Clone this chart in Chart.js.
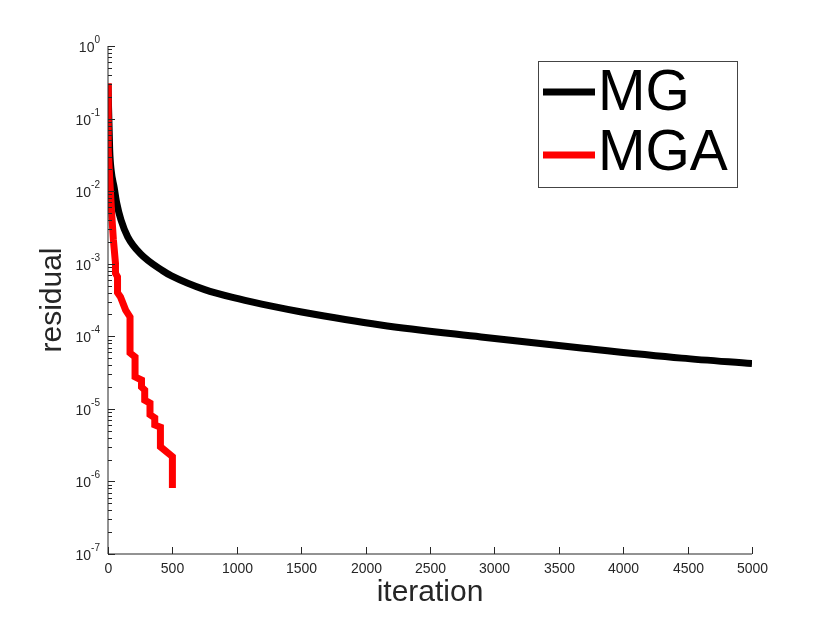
<!DOCTYPE html>
<html>
<head>
<meta charset="utf-8">
<script src="https://cdn.jsdelivr.net/npm/chart.js@4.4.1/dist/chart.umd.min.js"></script>
<style>
    html, body { margin: 0; padding: 0; background: #fff; }
    #wrap { width: 830px; height: 623px; position: relative; }
</style>
</head>
<body>
<div id="wrap"><canvas id="residual-chart"></canvas></div>
<script>
const seriesNames = ['MG', 'MGA'];
const seriesColors = ['#000000', '#ff0000'];

const mgIterations = [0, 13, 25, 48, 68, 101, 153, 249, 425, 493, 751, 1010, 1270, 1503, 2117, 2896, 3675, 4454, 5000];
const mgResidual = [0.3, 0.037, 0.019, 0.0112, 0.0068, 0.004, 0.00235, 0.00139, 0.0008, 0.00068, 0.00044, 0.00033,
    0.00026, 0.000216, 0.000143, 0.000098, 0.000069, 0.00005, 0.000042];

const mgaIterations = [0, 2, 15, 30, 42, 58, 58, 74, 74, 97, 137, 171, 171, 210, 210, 260, 260, 285, 285,
    326, 326, 363, 363, 407, 407, 500, 500];
const mgaResidual = [0.307, 0.0366, 0.0129, 0.00443, 0.00212, 0.00102, 0.00074, 0.00066, 0.000398, 0.000348,
    0.00023, 0.000185, 0.000059, 0.000052, 0.0000276, 0.000025, 0.00002, 0.0000182, 0.0000132, 0.000012,
    0.0000083, 0.0000075, 0.000006, 0.0000056, 0.000003, 0.0000022, 0.00000081];

const xTicks = [0, 500, 1000, 1500, 2000, 2500, 3000, 3500, 4000, 4500, 5000];
const yTickExponents = [0, -1, -2, -3, -4, -5, -6, -7];
const xTitle = 'iteration';
const yTitle = 'residual';

const FONT = "'Liberation Sans', Arial, sans-serif";
const AXIS_COLOR = '#262626';

const toPoints = (xs, ys) => xs.map((x, i) => ({ x: x, y: ys[i] }));

// axes, ticks, titles and legend drawn in MATLAB style
const matlabAxes = {
    id: 'matlabAxes',
    afterDraw: (chart) => {
        const ctx = chart.ctx;
        const area = chart.chartArea;
        const xs = chart.scales.x;
        const ys = chart.scales.y;
        ctx.save();

        ctx.strokeStyle = AXIS_COLOR;
        ctx.lineWidth = 1;
        ctx.beginPath();
        ctx.moveTo(area.left, area.top);
        ctx.lineTo(area.left, area.bottom);
        ctx.lineTo(area.right, area.bottom);
        ctx.stroke();

        // x ticks
        ctx.fillStyle = AXIS_COLOR;
        ctx.font = '14px ' + FONT;
        ctx.textAlign = 'center';
        ctx.textBaseline = 'top';
        xTicks.forEach(v => {
            const px = Math.round(xs.getPixelForValue(v)) + 0.5;
            ctx.beginPath();
            ctx.moveTo(px, area.bottom);
            ctx.lineTo(px, area.bottom - 7);
            ctx.stroke();
            ctx.fillText(String(v), px, area.bottom + 8);
        });

        // y ticks, major and minor
        yTickExponents.forEach(e => {
            const py = Math.round(ys.getPixelForValue(Math.pow(10, e))) + 0.5;
            ctx.beginPath();
            ctx.moveTo(area.left, py);
            ctx.lineTo(area.left + 7, py);
            ctx.stroke();
            if (e < 0) {
                for (let m = 2; m <= 9; m++) {
                    const pm = Math.round(ys.getPixelForValue(m * Math.pow(10, e))) + 0.5;
                    ctx.beginPath();
                    ctx.moveTo(area.left, pm);
                    ctx.lineTo(area.left + 4, pm);
                    ctx.stroke();
                }
            }
            const sup = String(e);
            ctx.font = '10px ' + FONT;
            const supW = ctx.measureText(sup).width;
            const right = area.left - 8;
            ctx.textAlign = 'left';
            ctx.textBaseline = 'alphabetic';
            ctx.fillText(sup, right - supW, py - 4);
            ctx.font = '14px ' + FONT;
            ctx.textAlign = 'right';
            ctx.fillText('10', right - supW, py + 5);
        });

        // axis titles
        ctx.font = '30px ' + FONT;
        ctx.textAlign = 'center';
        ctx.textBaseline = 'alphabetic';
        ctx.fillText(xTitle, (area.left + area.right) / 2, 601);
        ctx.translate(61, (area.top + area.bottom) / 2);
        ctx.rotate(-Math.PI / 2);
        ctx.fillText(yTitle, 0, 0);
        ctx.restore();

        // legend
        ctx.save();
        ctx.strokeStyle = '#444444';
        ctx.lineWidth = 1;
        ctx.fillStyle = '#ffffff';
        ctx.fillRect(538, 61, 199, 126);
        ctx.strokeRect(538.5, 61.5, 199, 126);
        ctx.font = '57px ' + FONT;
        ctx.textAlign = 'left';
        ctx.textBaseline = 'alphabetic';
        seriesNames.forEach((name, i) => {
            const ly = 92 + i * 63;
            ctx.strokeStyle = seriesColors[i];
            ctx.lineWidth = 7;
            ctx.beginPath();
            ctx.moveTo(543, ly);
            ctx.lineTo(595, ly);
            ctx.stroke();
            ctx.fillStyle = '#000000';
            ctx.fillText(name, 598, 110 + i * 60);
        });
        ctx.restore();
    }
};

const renderChart = () => {
    const ctx = document.getElementById('residual-chart');
    new Chart(ctx, {
        type: 'line',
        data: {
            datasets: [{
                label: seriesNames[0],
                data: toPoints(mgIterations, mgResidual),
                borderColor: seriesColors[0],
                borderWidth: 7,
                pointRadius: 0,
                cubicInterpolationMode: 'monotone',
                order: 1
            },
            {
                label: seriesNames[1],
                data: toPoints(mgaIterations, mgaResidual),
                borderColor: seriesColors[1],
                borderWidth: 7,
                pointRadius: 0,
                tension: 0,
                order: 0
            }]
        },
        options: {
            responsive: true,
            maintainAspectRatio: false,
            animation: false,
            layout: {
                padding: { left: 108, right: 78, top: 46, bottom: 69 }
            },
            plugins: {
                legend: { display: false },
                tooltip: { enabled: false }
            },
            scales: {
                x: { type: 'linear', min: 0, max: 5000, display: false },
                y: { type: 'logarithmic', min: 1e-7, max: 1, display: false }
            }
        },
        plugins: [matlabAxes]
    });
};

renderChart();
</script>
</body>
</html>
